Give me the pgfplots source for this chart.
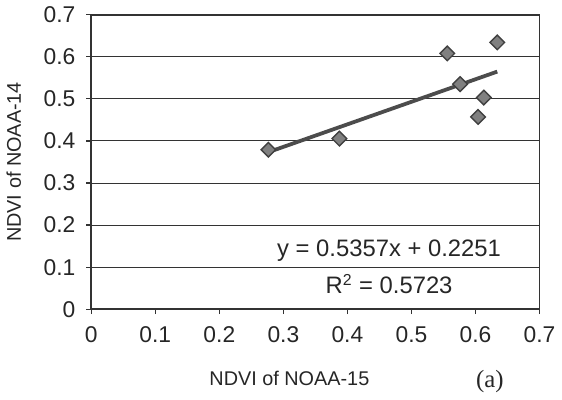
\documentclass[border=0pt]{standalone}
\usepackage{pgfplots}
\pgfplotsset{compat=1.18}
\usepackage{fontspec}
\setmainfont{Liberation Sans}
\newfontfamily\seriffont{Liberation Serif}
\begin{document}
\begin{tikzpicture}
\begin{axis}[
  scale only axis,
  width=226pt, height=148.5pt,
  xmin=0, xmax=0.7, ymin=0, ymax=0.7,
  xtick={0,0.1,...,0.7}, ytick={0,0.1,...,0.7},
  xticklabels={0,0.1,0.2,0.3,0.4,0.5,0.6,0.7},
  yticklabels={0,0.1,0.2,0.3,0.4,0.5,0.6,0.7},
  tick align=outside, tick pos=left,
  major tick length=2.5pt,
  tick style={black!80, line width=0.6pt},
  axis line style={black!80, line width=0.9pt},
  ymajorgrids, grid style={black!80, line width=0.5pt},
  ticklabel style={font=\fontsize{11.5}{13}\selectfont, text=black!85},
  xticklabel style={yshift=-2.5pt},
  yticklabel style={xshift=-2pt},
  xlabel={NDVI of NOAA-15},
  ylabel={NDVI of NOAA-14},
  label style={font=\fontsize{10}{12}\selectfont, text=black!85},
  xlabel style={at={(axis description cs:0.442,-0.235)}, anchor=center},
  ylabel style={at={(axis description cs:-0.1726,0.5)}, anchor=center, rotate=0},
  clip=false,
]
\addplot[only marks, mark=square*, mark size=2.6pt,
  mark options={rotate=45, fill=black!50, draw=black!75, line width=0.7pt}]
  coordinates {(0.2766,0.379) (0.3875,0.4055) (0.556,0.608) (0.576,0.535)
               (0.613,0.503) (0.604,0.457) (0.634,0.634)};
\addplot[draw=black!70, line width=1.9pt, no marks]
  coordinates {(0.2766,0.3733) (0.634,0.5647)};
\node[font=\fontsize{12}{14}\selectfont, text=black!85] at (axis cs:0.465,0.140) {y = 0.5357x + 0.2251};
\node[font=\fontsize{12}{14}\selectfont, text=black!85] at (axis cs:0.465,0.060) {R\textsuperscript{2} = 0.5723};
\node[font=\seriffont\fontsize{12.5}{14}\selectfont, text=black!85] at (axis description cs:0.889,-0.245) {(a)};
\end{axis}
\end{tikzpicture}
\end{document}
